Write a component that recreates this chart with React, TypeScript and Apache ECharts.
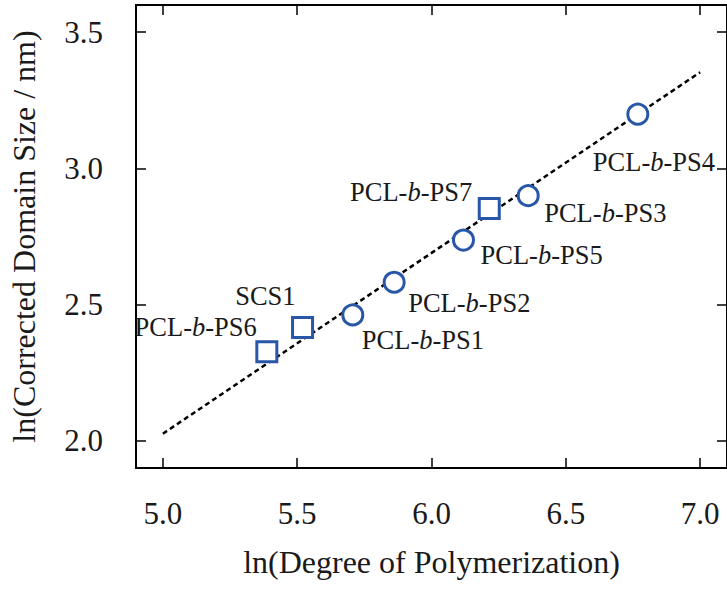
import React, { useEffect, useRef } from "react";
import * as echarts from "echarts";

const circleNames = ["PCL-b-PS1", "PCL-b-PS2", "PCL-b-PS5", "PCL-b-PS3", "PCL-b-PS4"];
const circleX = [5.707, 5.861, 6.119, 6.36, 6.768];
const circleY = [2.462, 2.582, 2.737, 2.9, 3.199];

const squareNames = ["PCL-b-PS6", "SCS1", "PCL-b-PS7"];
const squareX = [5.387, 5.52, 6.215];
const squareY = [2.327, 2.416, 2.853];

const fitX = [5.0, 7.0];
const fitY = [2.026, 3.353];

const xTicks = [5.0, 5.5, 6.0, 6.5, 7.0];
const yTicks = [2.0, 2.5, 3.0, 3.5];

// label placement (offset from marker centre) per name
const labelPlace: Record<string, { dx: number; dy: number; align: string }> = {
  "PCL-b-PS1": { dx: 9, dy: 25, align: "left" },
  "PCL-b-PS2": { dx: 14, dy: 21, align: "left" },
  "PCL-b-PS5": { dx: 17, dy: 15, align: "left" },
  "PCL-b-PS3": { dx: 16, dy: 17, align: "left" },
  "PCL-b-PS4": { dx: -45, dy: 48, align: "left" },
  "PCL-b-PS6": { dx: -10, dy: -25, align: "right" },
  "SCS1": { dx: -7, dy: -31, align: "right" },
  "PCL-b-PS7": { dx: -17, dy: -16, align: "right" },
};

const BLUE = "#2857a8";
const TEXT = "#1a1a1a";
const FONT = "'Liberation Serif', 'Times New Roman', serif";

function fmt(name: string) {
  if (name.includes("-b-")) {
    const [a, b] = name.split("-b-");
    return `{n|${a}-}{i|b}{n|-${b}}`;
  }
  return `{n|${name}}`;
}

function makePoints(names: string[], xs: number[], ys: number[]) {
  return names.map((n, i) => {
    const p = labelPlace[n];
    return {
      name: n,
      value: [xs[i], ys[i]],
      label: {
        show: true,
        position: "inside",
        align: p.align,
        verticalAlign: "middle",
        offset: [p.dx, p.dy],
      },
    };
  });
}

export default function App() {
  const ref = useRef<HTMLDivElement>(null);
  useEffect(() => {
    if (!ref.current) return;
    const chart = echarts.init(ref.current, undefined, { renderer: "svg" });
    const labelCommon = {
      formatter: (p: any) => fmt(p.name),
      color: TEXT,
      opacity: 1,
      rich: {
        n: { fontFamily: FONT, fontSize: 26.5, color: TEXT },
        i: { fontFamily: FONT, fontSize: 26.5, color: TEXT, fontStyle: "italic" },
      },
    };
    const axisLine = { show: true, lineStyle: { color: "#000", width: 2 } };
    const axisTick = { show: true, inside: true, length: 10, lineStyle: { color: "#000", width: 1.5 } };
    chart.setOption({
      animation: false,
      backgroundColor: "#fff",
      grid: { left: 136, top: 5, right: -6, bottom: 122 },
      xAxis: [
        {
          type: "value",
          min: 4.9,
          max: 7.1,
          interval: 0.5,
          position: "bottom",
          name: "ln(Degree of Polymerization)",
          nameLocation: "middle",
          nameGap: 78,
          nameTextStyle: { fontFamily: FONT, fontSize: 32, color: TEXT },
          axisLine,
          axisTick: { ...axisTick, customValues: xTicks },
          axisLabel: {
            customValues: xTicks,
            fontFamily: FONT,
            fontSize: 31,
            color: TEXT,
            margin: 30,
            formatter: (v: number) => v.toFixed(1),
          },
          splitLine: { show: false },
        },
        {
          type: "value",
          min: 4.9,
          max: 7.1,
          position: "top",
          axisLine,
          axisTick: { ...axisTick, customValues: xTicks },
          axisLabel: { show: false, customValues: xTicks },
          splitLine: { show: false },
        },
      ],
      yAxis: [
        {
          type: "value",
          min: 1.9,
          max: 3.6,
          position: "left",
          name: "ln(Corrected Domain Size / nm)",
          nameLocation: "middle",
          nameGap: 96,
          nameTextStyle: { fontFamily: FONT, fontSize: 32, color: TEXT },
          axisLine,
          axisTick: { ...axisTick, customValues: yTicks },
          axisLabel: {
            customValues: yTicks,
            fontFamily: FONT,
            fontSize: 31,
            color: TEXT,
            margin: 33,
            formatter: (v: number) => v.toFixed(1),
          },
          splitLine: { show: false },
        },
        {
          type: "value",
          min: 1.9,
          max: 3.6,
          position: "right",
          axisLine,
          axisTick: { ...axisTick, customValues: yTicks },
          axisLabel: { show: false, customValues: yTicks },
          splitLine: { show: false },
        },
      ],
      series: [
        {
          type: "line",
          data: fitX.map((x, i) => [x, fitY[i]]),
          showSymbol: false,
          symbol: "none",
          lineStyle: { color: "#000", width: 2.5, type: [5, 3.5] },
          z: 1,
        },
        {
          type: "scatter",
          symbol: "circle",
          symbolSize: 20,
          itemStyle: { color: "#fff", borderColor: BLUE, borderWidth: 3, opacity: 1 },
          label: labelCommon,
          data: makePoints(circleNames, circleX, circleY),
          z: 3,
        },
        {
          type: "scatter",
          symbol: "rect",
          symbolSize: 20,
          itemStyle: { color: "#fff", borderColor: BLUE, borderWidth: 3, opacity: 1 },
          label: labelCommon,
          data: makePoints(squareNames, squareX, squareY),
          z: 3,
        },
      ],
    });
    return () => chart.dispose();
  }, []);
  return (
    <div
      ref={ref}
      style={{ position: "absolute", left: 0, top: 0, width: 727, height: 590 }}
    />
  );
}
